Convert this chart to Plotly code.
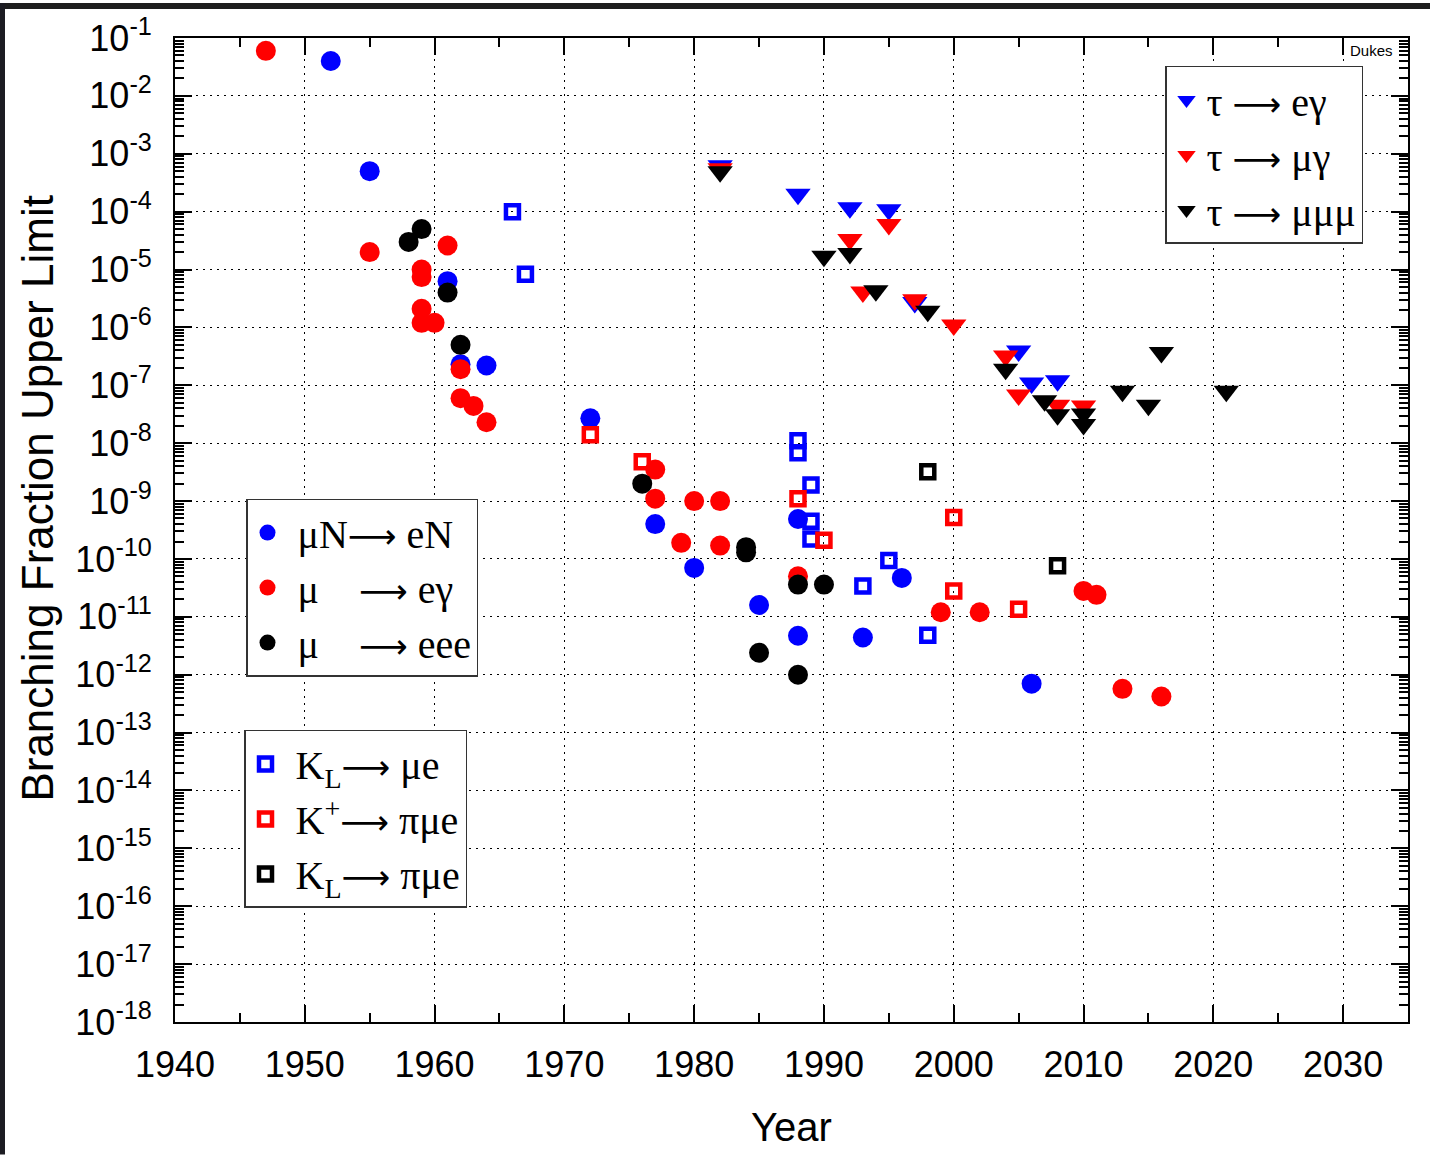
import plotly.graph_objects as go

# ---------------- data ----------------
mu_eN_year = [1952, 1955, 1961, 1962, 1964, 1972, 1977, 1980, 1985, 1988, 1988, 1993, 1996, 2006]
mu_eN_limit = [4e-2, 5e-4, 6.3e-6, 2.3e-7, 2.2e-7, 2.7e-8, 4e-10, 7e-11, 1.6e-11, 4.9e-10,
               4.7e-12, 4.4e-12, 4.7e-11, 7e-13]

mu_eg_year = [1947, 1955, 1959, 1959, 1961, 1959, 1959, 1960, 1962, 1962, 1963, 1964, 1977, 1977,
              1980, 1982, 1979, 1982, 1988, 1999, 2002, 2010, 2011, 2013, 2016]
mu_eg_limit = [6e-2, 2e-5, 1e-5, 7.4e-6, 2.6e-5, 2.1e-6, 1.2e-6, 1.2e-6, 1.9e-7, 6e-8, 4.4e-8, 2.3e-8,
               3.5e-9, 1.1e-9, 1.0e-9, 1.0e-9, 1.9e-10, 1.7e-10, 5e-11, 1.2e-11, 1.2e-11, 2.8e-11,
               2.4e-11, 5.7e-13, 4.2e-13]

mu_eee_year = [1958, 1959, 1961, 1962, 1976, 1984, 1984, 1988, 1990, 1985, 1988]
mu_eee_limit = [3e-5, 5e-5, 4e-6, 5e-7, 2e-9, 1.6e-10, 1.3e-10, 3.6e-11, 3.6e-11, 2.4e-12, 1.0e-12]

KL_mue_year = [1966, 1967, 1988, 1988, 1989, 1989, 1989, 1993, 1995, 1998]
KL_mue_limit = [1e-4, 8.3e-6, 1.1e-8, 6.8e-9, 1.9e-9, 4.5e-10, 2.2e-10, 3.4e-11, 9.4e-11, 4.8e-12]

Kp_pimue_year = [1972, 1976, 1988, 1990, 2000, 2000, 2005]
Kp_pimue_limit = [1.4e-8, 4.8e-9, 1.1e-9, 2.1e-10, 5.2e-10, 2.8e-11, 1.35e-11]

KL_pimue_year = [1998, 2008]
KL_pimue_limit = [3.2e-9, 7.6e-11]

tau_eg_year = [1982, 1988, 1992, 1995, 1997, 2005, 2006, 2008]
tau_eg_limit = [6.2e-4, 2.0e-4, 1.17e-4, 1.08e-4, 2.7e-6, 3.9e-7, 1.1e-7, 1.2e-7]

tau_mg_year = [1982, 1992, 1993, 1995, 1997, 2000, 2004, 2005, 2008, 2010]
tau_mg_limit = [5.5e-4, 3.3e-5, 4.1e-6, 6.0e-5, 3.0e-6, 1.1e-6, 3.2e-7, 6.8e-8, 4.5e-8, 4.4e-8]

tau_mmm_year = [1982, 1990, 1992, 1994, 1998, 2004, 2007, 2008, 2010, 2010, 2013, 2015, 2016, 2021]
tau_mmm_limit = [4.9e-4, 1.7e-5, 1.9e-5, 4.3e-6, 1.9e-6, 1.9e-7, 5.4e-8, 3.1e-8, 3.2e-8, 2.1e-8,
                 7.9e-8, 4.5e-8, 3.7e-7, 7.9e-8]

y_exponents = list(range(-18, 0))
y_tick_labels = ["10<sup>%d</sup>" % e for e in y_exponents]
x_tick_years = [1940, 1950, 1960, 1970, 1980, 1990, 2000, 2010, 2020, 2030]

# ---------------- figure ----------------
SANS = "Liberation Sans, Arial, Helvetica, sans-serif"
SERIF = "Liberation Serif, Times New Roman, serif"
NB = "\u00a0"
ARROW = "<span style='font-family:DejaVu Sans;font-size:34px'>\u27f6</span>"

fig = go.Figure()


def add(x, y, name, color, symbol, size, legend, open_=False):
    if open_:
        marker = dict(color=color, symbol=symbol, size=size, line=dict(width=4.5, color=color))
    else:
        marker = dict(color=color, symbol=symbol, size=size, line=dict(width=0))
    fig.add_trace(go.Scatter(x=x, y=y, mode="markers", name=name, marker=marker,
                             legend=legend, showlegend=True, hoverinfo="x+y+name"))


BLUE, RED, BLACK = "#0000ff", "#ff0000", "#000000"

add(mu_eN_year, mu_eN_limit, NB + "μN" + ARROW + " eN", BLUE, "circle", 20, "legend")
add(mu_eg_year, mu_eg_limit, NB + "μ" + NB * 4 + ARROW + " eγ", RED, "circle", 20, "legend")
add(mu_eee_year, mu_eee_limit, NB + "μ" + NB * 4 + ARROW + " eee", BLACK, "circle", 20, "legend")

add(KL_mue_year, KL_mue_limit, NB + "K<sub>L</sub>" + ARROW + " μe", BLUE, "square-open", 13, "legend2", True)
add(Kp_pimue_year, Kp_pimue_limit, NB + "K<sup>+</sup>" + ARROW + " πμe", RED, "square-open", 13, "legend2", True)
add(KL_pimue_year, KL_pimue_limit, NB + "K<sub>L</sub>" + ARROW + " πμe", BLACK, "square-open", 13, "legend2", True)

add(tau_eg_year, tau_eg_limit, "τ " + ARROW + " eγ", BLUE, "triangle-down", 22, "legend3")
add(tau_mg_year, tau_mg_limit, "τ " + ARROW + " μγ", RED, "triangle-down", 22, "legend3")
add(tau_mmm_year, tau_mmm_limit, "τ " + ARROW + " μμμ", BLACK, "triangle-down", 22, "legend3")

L, R, T, B = 175, 22, 35, 133
W, H = 1430, 1155
PW, PH = W - L - R, H - T - B


def px_x(p):
    return (p - L) / PW


def px_y(p):
    return 1 - (p - T) / PH


legend_common = dict(bgcolor="white", bordercolor="#333333", borderwidth=1.5,
                     font=dict(family=SERIF, size=40, color="black"),
                     xanchor="left", yanchor="top", tracegroupgap=0)

fig.update_layout(
    width=W, height=H,
    margin=dict(l=L, r=R, t=T, b=B, pad=0),
    paper_bgcolor="white", plot_bgcolor="white",
    legend=dict(x=px_x(246), y=px_y(497), **legend_common),
    legend2=dict(x=px_x(244), y=px_y(729), **legend_common),
    legend3=dict(x=px_x(1165), y=px_y(63), **legend_common),
    xaxis=dict(
        range=[1940, 2035], tickmode="array", tickvals=x_tick_years,
        ticks="inside", ticklen=17, tickwidth=1.5, tickcolor="black",
        mirror="allticks", showline=True, linecolor="black", linewidth=2,
        showgrid=True, gridcolor="black", griddash="1.5px,5.5px", gridwidth=1.2,
        zeroline=False,
        minor=dict(dtick=5, tick0=1940, ticks="inside", ticklen=9, tickwidth=1.5,
                   tickcolor="black", showgrid=False),
        tickfont=dict(family=SANS, size=36, color="black"),
        ticklabelstandoff=10,
    ),
    yaxis=dict(
        type="log", range=[-18, -1], tickmode="array",
        tickvals=[10.0 ** e for e in y_exponents],
        ticktext=y_tick_labels,
        ticks="inside", ticklen=17, tickwidth=1.5, tickcolor="black",
        mirror="allticks", showline=True, linecolor="black", linewidth=2,
        showgrid=True, gridcolor="black", griddash="1.5px,5.5px", gridwidth=1.2,
        zeroline=False,
        minor=dict(tickmode="array",
                   tickvals=[m * 10.0 ** e for e in range(-18, -1) for m in range(2, 10)],
                   ticks="inside", ticklen=9, tickwidth=1.5, tickcolor="black", showgrid=False),
        tickfont=dict(family=SANS, size=36, color="black"),
        ticklabelstandoff=14,
    ),
    annotations=[
        dict(text="Branching Fraction Upper Limit", textangle=-90, xref="paper", yref="paper",
             x=px_x(38), y=px_y(497), xanchor="center", yanchor="middle", showarrow=False,
             font=dict(family=SANS, size=44, color="black")),
        dict(text="Year", xref="paper", yref="paper", x=px_x(791), y=px_y(1127),
             xanchor="center", yanchor="middle", showarrow=False,
             font=dict(family=SANS, size=40, color="black")),
        dict(text="Dukes", xref="paper", yref="paper", x=px_x(1395), y=px_y(48),
             xanchor="right", yanchor="middle", showarrow=False,
             font=dict(family=SANS, size=15, color="black")),
    ],
    shapes=[
        dict(type="rect", xref="paper", yref="paper", x0=px_x(0), x1=px_x(W), y0=px_y(6), y1=px_y(0),
             fillcolor="#1e1e1e", line=dict(width=0), layer="above"),
        dict(type="rect", xref="paper", yref="paper", x0=px_x(0), x1=px_x(5), y0=px_y(H), y1=px_y(0),
             fillcolor="#1c1c22", line=dict(width=0), layer="above"),
    ],
)

fig.write_html("out.html")
